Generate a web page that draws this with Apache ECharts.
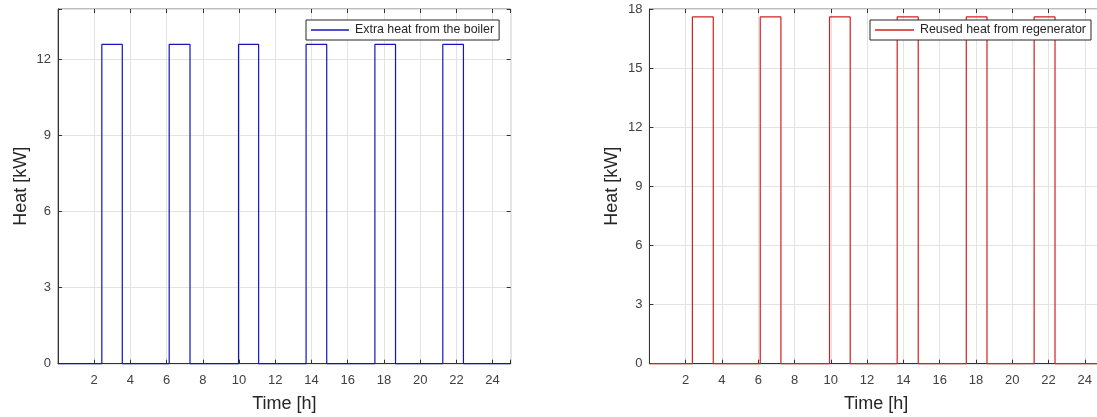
<!DOCTYPE html>
<html>
<head>
<meta charset="utf-8">
<title>Heat balance</title>
<script src="https://cdn.jsdelivr.net/npm/echarts@6/dist/echarts.min.js"></script>
<style>
  html, body { margin: 0; padding: 0; background: #ffffff; }
  #chart { width: 1097px; height: 417px; }
</style>
</head>
<body>
<div id="chart"></div>
<script>
// Switching intervals of the boiler (start / stop hour) and the power it adds
const boilerOn  = [2.42, 6.14, 9.97, 13.70, 17.50, 21.25];
const boilerOff = [3.55, 7.29, 11.08, 14.84, 18.64, 22.39];
const boilerKW  = [12.6, 12.6, 12.6, 12.6, 12.6, 12.6];

// Intervals in which heat is recovered from the regenerator
const regenOn  = [2.37, 6.11, 9.93, 13.66, 17.47, 21.21];
const regenOff = [3.52, 7.25, 11.07, 14.82, 18.61, 22.36];
const regenKW  = [17.6, 17.6, 17.6, 17.6, 17.6, 17.6];

// Day span shown and the labelled ticks
const timeSpan = [0, 25];
const timeTicks = [2, 4, 6, 8, 10, 12, 14, 16, 18, 20, 22, 24];
const boilerHeatTicks = [0, 3, 6, 9, 12];
const regenHeatTicks = [0, 3, 6, 9, 12, 15, 18];

const boilerName = 'Extra heat from the boiler';
const regenName = 'Reused heat from regenerator';
const timeTitle = 'Time [h]';
const heatTitle = 'Heat [kW]';

// Rectangular pulse train: zero baseline with vertical on/off edges
function pulseTrain(on, off, level) {
  const pts = [[timeSpan[0], 0]];
  for (let i = 0; i < on.length; i++) {
    pts.push([on[i], 0], [on[i], level[i]], [off[i], level[i]], [off[i], 0]);
  }
  pts.push([timeSpan[1], 0]);
  return pts;
}

const FONT = '"Liberation Sans", Arial, Helvetica, sans-serif';
const labelColor = '#404040';
const gridColor = '#e3e3e3';

function onlyIn(list) {
  return v => (list.indexOf(Math.round(v * 1000) / 1000) >= 0 ? String(v) : '');
}

// Bottom axis carries labels and grid lines; the top one only mirrors the ticks
function xAxisPair(gridIndex) {
  const base = {
    type: 'value', gridIndex: gridIndex, min: timeSpan[0], max: timeSpan[1], interval: 2,
    axisTick: { inside: true, length: 4, lineStyle: { color: '#333' } }
  };
  return [
    Object.assign({}, base, {
      position: 'bottom',
      name: timeTitle, nameLocation: 'middle', nameGap: 31,
      nameTextStyle: { fontFamily: FONT, fontSize: 18, color: '#262626' },
      axisLine: { show: true, onZero: false, lineStyle: { color: '#333', width: 1 } },
      axisLabel: { margin: 10, fontFamily: FONT, fontSize: 13, color: labelColor,
                   formatter: onlyIn(timeTicks) },
      splitLine: { show: true, lineStyle: { color: gridColor, width: 1 } }
    }),
    Object.assign({}, base, {
      position: 'top',
      axisLine: { show: false, onZero: false },
      axisLabel: { show: false },
      splitLine: { show: false }
    })
  ];
}

// Left axis carries labels and grid lines; the right one only mirrors the ticks
function yAxisPair(gridIndex, max, ticks) {
  const base = {
    type: 'value', gridIndex: gridIndex, min: 0, max: max, interval: 3,
    axisTick: { inside: true, length: 4, lineStyle: { color: '#333' } }
  };
  return [
    Object.assign({}, base, {
      position: 'left',
      name: heatTitle, nameLocation: 'middle', nameGap: 28, nameRotate: 90,
      nameTextStyle: { fontFamily: FONT, fontSize: 18, color: '#262626' },
      axisLine: { show: true, onZero: false, lineStyle: { color: '#333', width: 1 } },
      axisLabel: { margin: 7, fontFamily: FONT, fontSize: 13, color: labelColor,
                   formatter: onlyIn(ticks) },
      splitLine: { show: true, lineStyle: { color: gridColor, width: 1 } }
    }),
    Object.assign({}, base, {
      position: 'right',
      axisLine: { show: false, onZero: false },
      axisLabel: { show: false },
      splitLine: { show: false }
    })
  ];
}

function legendBox(left, name, iconWidth) {
  return {
    left: left, top: 20, orient: 'horizontal',
    data: [name],
    icon: 'rect',
    backgroundColor: '#ffffff',
    borderColor: '#262626', borderWidth: 1, borderRadius: 0,
    padding: [4, 5, 4, 5],
    itemWidth: iconWidth, itemHeight: 1.4, itemGap: 0,
    selectedMode: false,
    textStyle: { fontFamily: FONT, fontSize: 12.4, color: '#262626', padding: [0, 0, 0, 1] }
  };
}

const chart = echarts.init(document.getElementById('chart'), null, { renderer: 'canvas' });

chart.setOption({
  animation: false,
  backgroundColor: '#ffffff',
  grid: [
    { left: 58, top: 9, width: 452.7, height: 354.7, show: true, containLabel: false,
      outerBoundsMode: 'none',
      borderColor: '#7a7a7a', borderWidth: 1, backgroundColor: '#ffffff' },
    { left: 649.4, top: 9, width: 453.5, height: 354.7, show: true, containLabel: false,
      outerBoundsMode: 'none',
      borderColor: '#7a7a7a', borderWidth: 1, backgroundColor: '#ffffff' }
  ],
  xAxis: [...xAxisPair(0), ...xAxisPair(1)],
  yAxis: [...yAxisPair(0, 14, boilerHeatTicks), ...yAxisPair(1, 18, regenHeatTicks)],
  legend: [
    legendBox(306, boilerName, 38),
    legendBox(870, regenName, 39)
  ],
  series: [
    {
      name: boilerName, type: 'line', xAxisIndex: 0, yAxisIndex: 0,
      data: pulseTrain(boilerOn, boilerOff, boilerKW),
      symbol: 'none', clip: false,
      lineStyle: { color: '#1515c0', width: 1.2 },
      itemStyle: { color: '#1515c0' }
    },
    {
      name: regenName, type: 'line', xAxisIndex: 2, yAxisIndex: 2,
      data: pulseTrain(regenOn, regenOff, regenKW),
      symbol: 'none', clip: false,
      lineStyle: { color: '#d42020', width: 1.2 },
      itemStyle: { color: '#d42020' }
    }
  ]
});
</script>
</body>
</html>
